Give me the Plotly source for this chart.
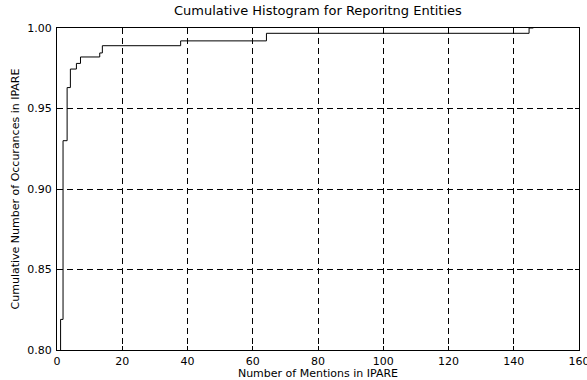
import plotly.graph_objects as go

# Bin edges where the cumulative fraction steps up, and the fraction reached there
step_edges = [1.1, 1.85, 3.1, 4.1, 5.95, 7.2, 13.1, 13.9, 37.9, 64.2, 144.7, 146.0]
cum_fraction = [0.819, 0.930, 0.963, 0.9745, 0.978, 0.982, 0.9845, 0.989, 0.992, 0.9967, 1.0, 1.0]

x_ticks = [0, 20, 40, 60, 80, 100, 120, 140, 160]
y_ticks = [0.80, 0.85, 0.90, 0.95, 1.00]
y_tick_text = ["0.80", "0.85", "0.90", "0.95", "1.00"]

xs = [step_edges[0]] + step_edges
ys = [0.0] + cum_fraction

FONT = "DejaVu Sans"

fig = go.Figure()
fig.add_trace(go.Scatter(
    x=xs, y=ys, mode="lines", line=dict(color="black", width=1, shape="hv"),
    showlegend=False, hoverinfo="skip",
))

axis_common = dict(
    showline=True, linecolor="black", linewidth=1, mirror="ticks",
    ticks="inside", ticklen=4, tickcolor="black", tickwidth=1,
    showgrid=True, gridcolor="black", gridwidth=1, griddash="6px,4px",
    zeroline=False, tickfont=dict(family=FONT, size=11, color="black"),
    automargin=False,
)

fig.update_xaxes(range=[0, 160], tickvals=x_ticks, **axis_common,
                 ticklabelstandoff=1, ticklabeloverflow="allow",
                 title=dict(text="Number of Mentions in IPARE", font=dict(family=FONT, size=11, color="black"), standoff=11))
fig.update_yaxes(range=[0.80, 1.00], tickvals=y_ticks, ticktext=y_tick_text, **axis_common,
                 ticklabelstandoff=2,
                 title=dict(text="Cumulative Number of Occurances in IPARE", font=dict(family=FONT, size=11, color="black"), standoff=5))

fig.update_layout(
    width=587, height=380,
    margin=dict(l=57, r=8, t=28, b=30),
    paper_bgcolor="white", plot_bgcolor="white",
    title=dict(text="Cumulative Histogram for Reporitng Entities", x=0.5416, xanchor="center",
               y=0.972, yanchor="middle", font=dict(family=FONT, size=13, color="black")),
)

fig.write_html("out.html")
